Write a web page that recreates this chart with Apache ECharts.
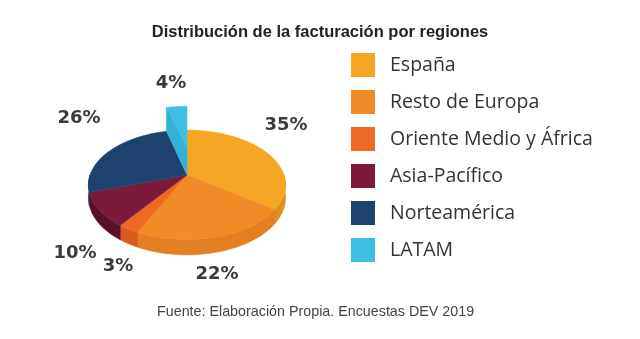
<!DOCTYPE html>
<html>
<head>
<meta charset="utf-8">
<script src="https://cdn.jsdelivr.net/npm/echarts@6/dist/echarts.min.js"></script>
<style>
  html, body { margin: 0; padding: 0; background: #ffffff; }
  #chart { width: 640px; height: 339px; }
</style>
</head>
<body>
<div id="chart"></div>
<script>
// Regions and their share of revenue (%)
const regions = ['España', 'Resto de Europa', 'Oriente Medio y África', 'Asia-Pacífico', 'Norteamérica', 'LATAM'];
const shares = [35, 22, 3, 10, 26, 4];
const raisedRegion = 'LATAM';

// Palette: top faces and darker side walls
const topColors = ['#F5A623', '#F08B27', '#EE6A24', '#7B1A3A', '#1C426D', '#3DC0E4'];
const sideColors = ['#DE911E', '#E37E22', '#D95B1C', '#5A1029', '#13304F', '#33B2D8'];

// Pie geometry (pixels) with a light perspective
const CX = 187, CY = 175, RX = 97, RY = 53, K = 0.18, DEPTH = 12.5, LIFT = 28;
// Where the percentage labels sit
const labelSpots = [[286, 125], [217, 274], [118, 266], [75, 253], [79, 118], [171, 83]];

const total = shares.reduce((a, b) => a + b, 0);

function proj(theta, r, h) {
  const u = r * Math.sin(theta), v = -r * Math.cos(theta);
  const s = 1 / (1 - K * v);
  return [CX + RX * u * s, CY + RY * v * s - h * s];
}
function arc(a, b, h, steps) {
  const pts = [];
  for (let i = 0; i <= steps; i++) pts.push(proj(a + (b - a) * i / steps, 1, h));
  return pts;
}

function renderSlice(params, api) {
  const idx = params.seriesIndex;
  const val = api.value(0);
  let before = 0;
  for (let i = 0; i < idx; i++) before += shares[i];
  const a = before / total * Math.PI * 2;
  const b = (before + val) / total * Math.PI * 2;
  const steps = Math.max(4, Math.ceil((b - a) / 0.03));
  const children = [];
  const raised = regions[idx] === raisedRegion;
  const h = raised ? LIFT : 0;

  // front outer wall
  const lo = Math.max(a, Math.PI / 2), hi = Math.min(b, Math.PI * 1.5);
  if (!raised && hi > lo) {
    const n = Math.max(4, Math.ceil((hi - lo) / 0.03));
    const pts = arc(lo, hi, 0, n).concat(arc(lo, hi, -DEPTH, n).reverse());
    children.push({ type: 'polygon', z2: 1, shape: { points: pts },
      style: { fill: sideColors[idx], stroke: sideColors[idx], lineWidth: 0.5 } });
  }
  // visible cut face of the raised slice
  if (raised) {
    const pts = [proj(0, 0, 0), proj(a, 1, 0), proj(a, 1, h), proj(0, 0, h)];
    children.push({ type: 'polygon', z2: 5, shape: { points: pts },
      style: { fill: sideColors[idx], stroke: sideColors[idx], lineWidth: 0.5 } });
  }
  // top face
  const top = [proj(0, 0, h)].concat(arc(a, b, h, steps));
  children.push({ type: 'polygon', z2: raised ? 6 : 3, shape: { points: top },
    style: { fill: topColors[idx], stroke: topColors[idx], lineWidth: 0.5 } });

  // percentage label
  const spot = labelSpots[idx];
  children.push({ type: 'text', z2: 10, x: spot[0], y: spot[1],
    style: { text: val + '%', fill: '#3a3a3a', align: 'center', verticalAlign: 'middle',
      font: 'bold 18px "DejaVu Sans"' } });
  return { type: 'group', children };
}

const series = regions.map((name, i) => ({
  type: 'custom',
  name,
  coordinateSystem: 'none',
  itemStyle: { color: topColors[i] },
  data: [{ value: shares[i], name }],
  renderItem: renderSlice,
  silent: true,
  animation: false
}));

const chart = echarts.init(document.getElementById('chart'), null, { renderer: 'canvas' });
chart.setOption({
  backgroundColor: '#ffffff',
  animation: false,
  title: {
    text: 'Distribución de la facturación por regiones',
    left: 'center', top: 19,
    textStyle: { fontFamily: 'Liberation Sans', fontSize: 16.5, fontWeight: 'bold', color: '#222' }
  },
  legend: {
    orient: 'vertical',
    left: 346, top: 48,
    itemWidth: 24, itemHeight: 24, itemGap: 13,
    icon: 'rect',
    selectedMode: false,
    data: regions,
    textStyle: { fontFamily: 'Open Sans', fontSize: 19.5, color: '#333', padding: [0, 0, 0, 10] }
  },
  graphic: [{
    type: 'text', left: 157, top: 305,
    style: { text: 'Fuente: Elaboración Propia. Encuestas DEV 2019', fill: '#444',
      font: '14.3px "Liberation Sans"' }
  }],
  series
});
</script>
</body>
</html>
